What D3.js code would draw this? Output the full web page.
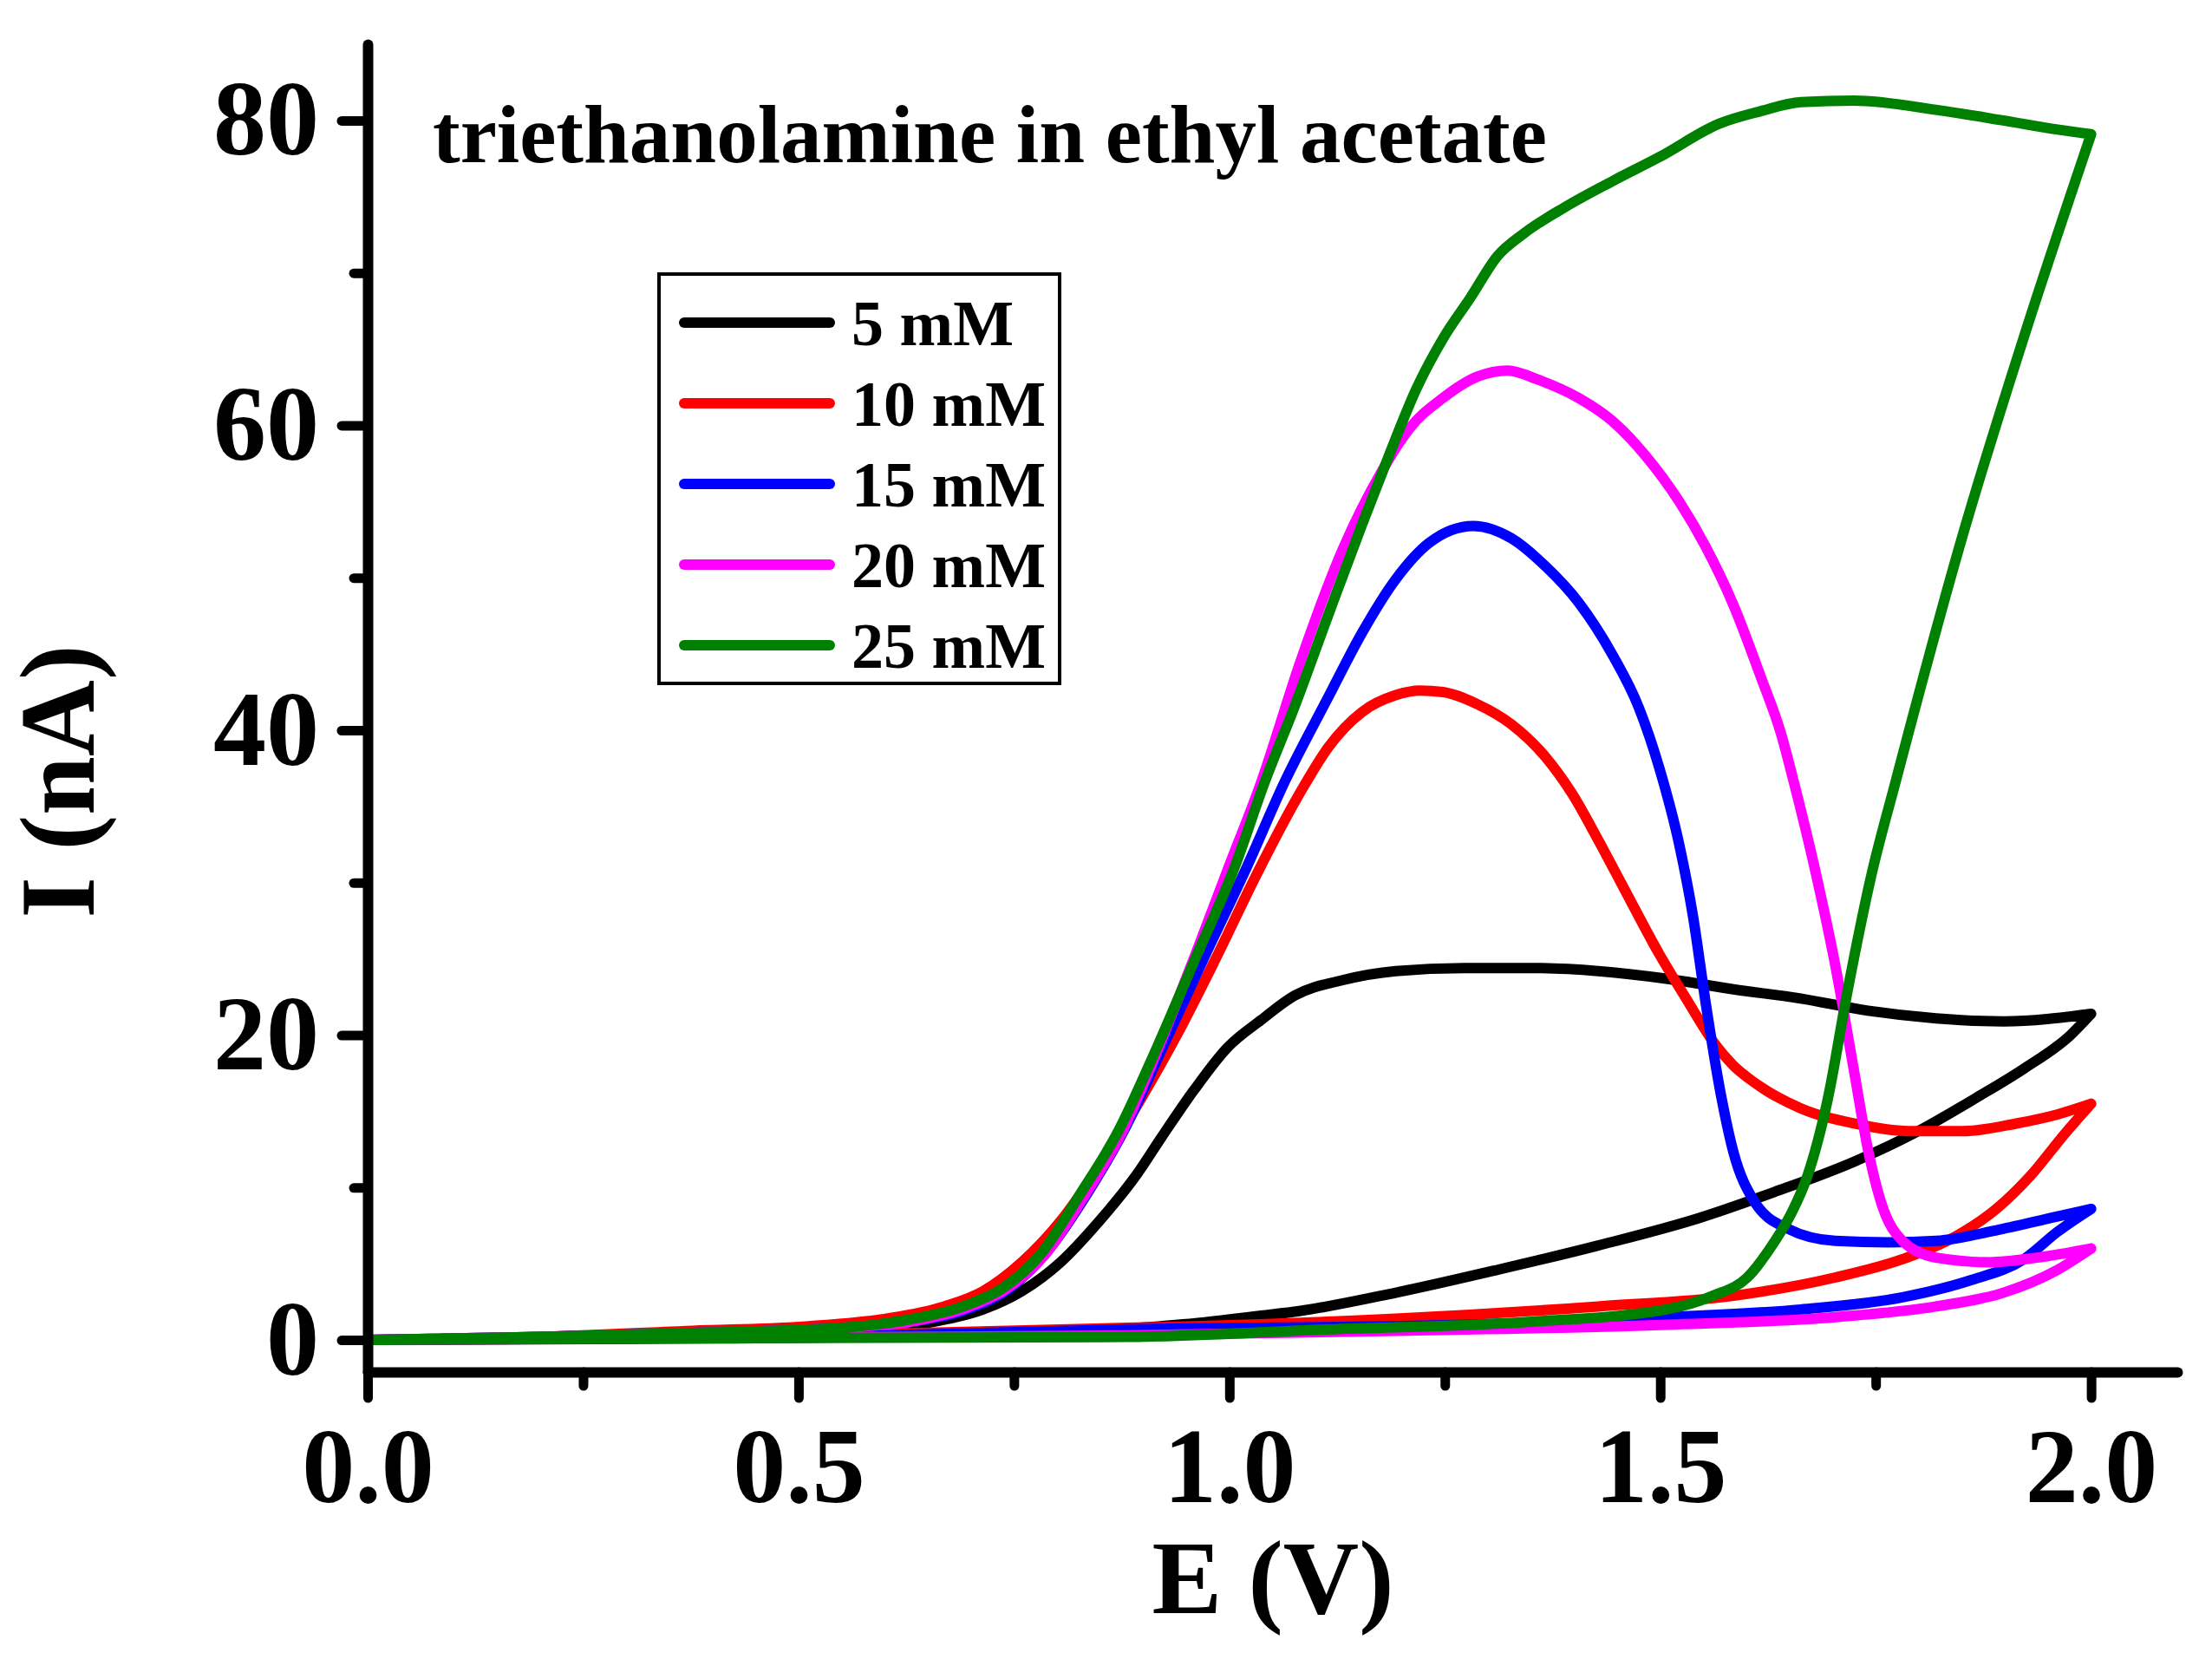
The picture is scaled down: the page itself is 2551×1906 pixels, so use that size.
<!DOCTYPE html>
<html>
<head>
<meta charset="utf-8">
<script src="https://cdn.jsdelivr.net/npm/d3@7.9.0/dist/d3.min.js"></script>
<style>
  body { margin: 0; background: #fff; }
  svg text { font-family: "Liberation Serif", "Times New Roman", serif; font-weight: bold; fill: #000; }
</style>
</head>
<body>
<svg id="chart" width="2551" height="1906"></svg>
<script>
// series labels and colours
const labels = ['5 mM', '10 mM', '15 mM', '20 mM', '25 mM'];
const colors = ['#000000', '#ff0000', '#0000ff', '#ff00ff', '#008000'];

// each curve is one loop: forward scan 0 -> 2 V, then back to 0 V
const e5 = [0, 0.2, 0.4, 0.6, 0.782, 0.871, 0.961, 1.037, 1.081, 1.193, 1.311, 1.428, 1.545, 1.632, 1.725, 1.796, 1.867, 1.922, 1.976, 2.0,
  1.898, 1.82, 1.741, 1.663, 1.585, 1.507, 1.428, 1.35, 1.272, 1.193, 1.131, 1.076, 1.037, 0.998, 0.959, 0.92, 0.893, 0.849, 0.804, 0.759, 0.714, 0.647, 0.557, 0.377, 0.2, 0];
const i5 = [0, 0.05, 0.1, 0.2, 0.4, 0.7, 1.1, 1.6, 1.9, 3.1, 4.6, 6.2, 8.0, 9.7, 11.7, 13.6, 15.9, 17.8, 20.0, 21.4,
  20.9, 21.1, 21.6, 22.4, 23.0, 23.7, 24.2, 24.4, 24.4, 24.2, 23.6, 22.6, 21.0, 19.2, 16.4, 13.2, 10.9, 7.8, 5.1, 3.2, 2.0, 1.1, 0.6, 0.2, 0.1, 0];

const e10 = [0, 0.3, 0.6, 0.88, 0.959, 1.193, 1.428, 1.585, 1.703, 1.781, 1.843, 1.89, 1.93, 1.969, 2.0,
  1.961, 1.913, 1.851, 1.788, 1.725, 1.663, 1.609, 1.585, 1.561, 1.53, 1.499, 1.46, 1.428, 1.397, 1.366, 1.327, 1.288, 1.248, 1.221, 1.193, 1.154, 1.115, 1.083,
  1.033, 0.984, 0.939, 0.893, 0.849, 0.804, 0.759, 0.714, 0.669, 0.602, 0.512, 0.377, 0.2, 0];
const i10 = [0, 0.2, 0.4, 0.8, 0.9, 1.4, 2.2, 2.9, 4.1, 5.3, 6.8, 8.6, 10.8, 13.5, 15.5,
  14.8, 14.2, 13.7, 13.7, 14.2, 15.2, 16.9, 18.0, 19.6, 22.4, 25.3, 29.4, 32.8, 35.9, 38.3, 40.4, 41.7, 42.5, 42.6, 42.3, 41.2, 38.9, 36.0,
  30.7, 25.0, 20.0, 15.4, 11.4, 7.8, 5.1, 3.2, 2.2, 1.4, 0.9, 0.6, 0.2, 0];

const e15 = [0, 0.3, 0.6, 0.88, 1.272, 1.507, 1.663, 1.781, 1.859, 1.922, 1.961, 2.0,
  1.961, 1.898, 1.82, 1.765, 1.703, 1.648, 1.609, 1.585, 1.569, 1.553, 1.538, 1.522, 1.499, 1.475, 1.444, 1.405, 1.366, 1.327, 1.283, 1.232, 1.193, 1.154, 1.115, 1.064,
  1.02, 0.97, 0.925, 0.88, 0.835, 0.79, 0.745, 0.7, 0.63, 0.55, 0.4, 0.2, 0];
const i15 = [0, 0.15, 0.3, 0.7, 1.0, 1.5, 2.0, 2.8, 3.9, 5.3, 7.1, 8.6,
  8.1, 7.3, 6.5, 6.4, 6.5, 7.3, 9.1, 12.3, 16.5, 22.0, 27.8, 32.5, 37.5, 41.5, 45.0, 48.4, 50.8, 52.6, 53.4, 52.3, 49.9, 46.4, 42.2, 36.6,
  31.0, 25.0, 19.5, 14.0, 9.6, 5.9, 3.4, 2.1, 1.2, 0.8, 0.5, 0.2, 0];

const e20 = [0, 0.3, 0.6, 0.88, 1.193, 1.507, 1.703, 1.82, 1.898, 1.961, 2.0,
  1.937, 1.882, 1.82, 1.781, 1.757, 1.741, 1.725, 1.703, 1.679, 1.655, 1.64, 1.616, 1.585, 1.553, 1.522, 1.483, 1.444, 1.405, 1.358, 1.323, 1.288, 1.248, 1.209, 1.178, 1.131, 1.083, 1.037,
  0.999, 0.96, 0.918, 0.875, 0.83, 0.786, 0.74, 0.695, 0.63, 0.55, 0.4, 0.2, 0];
const i20 = [0, 0.1, 0.2, 0.3, 0.6, 1.0, 1.5, 2.2, 3.1, 4.6, 6.0,
  5.4, 5.1, 5.4, 6.5, 8.9, 12.5, 17.6, 24.6, 31.0, 36.6, 39.8, 43.6, 48.2, 52.0, 55.0, 58.0, 60.3, 61.8, 63.0, 63.6, 63.2, 61.8, 59.8, 57.1, 51.8, 44.6, 36.6,
  31.0, 25.2, 19.2, 13.6, 9.3, 5.6, 3.3, 2.1, 1.2, 0.8, 0.5, 0.2, 0];

const e25 = [0, 0.3, 0.6, 0.88, 1.115, 1.35, 1.507, 1.561, 1.601, 1.632, 1.652, 1.671, 1.694, 1.718, 1.745, 1.773, 1.851, 1.922, 2.0,
  1.961, 1.898, 1.82, 1.725, 1.663, 1.616, 1.569, 1.499, 1.444, 1.389, 1.342, 1.311, 1.28, 1.248, 1.217, 1.185, 1.154, 1.115, 1.076, 1.041,
  1.006, 0.961, 0.916, 0.871, 0.826, 0.782, 0.737, 0.691, 0.624, 0.55, 0.4, 0.2, 0];
const i25 = [0, 0.1, 0.15, 0.2, 0.7, 1.2, 2.0, 2.9, 4.1, 6.4, 8.3, 10.8, 15.7, 23.1, 30.5, 36.6, 52.8, 65.8, 79.1,
  79.4, 80.0, 80.7, 81.3, 81.2, 80.6, 79.8, 77.6, 76.0, 74.3, 72.6, 71.1, 68.4, 65.7, 62.4, 58.0, 53.5, 47.6, 41.6, 36.6,
  31.0, 25.1, 19.2, 13.7, 9.5, 5.7, 3.4, 2.2, 1.3, 0.8, 0.5, 0.2, 0];

// tick values
const xMajor = [0, 0.5, 1.0, 1.5, 2.0];
const xMinor = [0.25, 0.75, 1.25, 1.75];
const yMajor = [0, 20, 40, 60, 80];
const yMinor = [10, 30, 50, 70];

const series = [[e5, i5], [e10, i10], [e15, i15], [e20, i20], [e25, i25]];

const svg = d3.select('#chart');

const x = d3.scaleLinear().domain([0, 2.1]).range([424, 2511]);
const y = d3.scaleLinear().domain([-2.1, 85]).range([1582, 51]);

// curves: split each loop at the turning point, both branches drawn left to right
const line = d3.line()
  .x(d => x(d[0]))
  .y(d => y(d[1]))
  .curve(d3.curveMonotoneX);

series.forEach(([es, is], idx) => {
  const pts = es.map((e, k) => [e, is[k]]);
  const turn = d3.maxIndex(es);
  const forward = pts.slice(0, turn + 1);
  const back = pts.slice(turn).reverse();
  svg.append('path')
    .attr('d', line(forward) + line(back))
    .attr('fill', 'none')
    .attr('stroke', colors[idx])
    .attr('stroke-width', 12)
    .attr('stroke-linejoin', 'round')
    .attr('stroke-linecap', 'round');
});

// axes
function styleAxis(g) {
  g.select('.domain').attr('stroke-width', 12).attr('stroke-linecap', 'round');
  g.selectAll('.tick line').attr('stroke-width', 11).attr('stroke-linecap', 'round');
}

svg.append('g')
  .attr('transform', `translate(0,${y(-2.1)})`)
  .call(d3.axisBottom(x).tickValues(xMinor).tickSize(16).tickSizeOuter(0).tickFormat(''))
  .call(styleAxis)
  .call(g => g.select('.domain').remove());

svg.append('g')
  .attr('transform', `translate(0,${y(-2.1)})`)
  .call(d3.axisBottom(x).tickValues(xMajor).tickSize(30).tickSizeOuter(0).tickFormat(d3.format('.1f')))
  .call(styleAxis)
  .call(g => g.selectAll('.tick text')
    .attr('y', 150).attr('dy', 0)
    .attr('font-size', 122).attr('font-family', null));

svg.append('g')
  .attr('transform', `translate(${x(0)},0)`)
  .call(d3.axisLeft(y).tickValues(yMinor).tickSize(16).tickSizeOuter(0).tickFormat(''))
  .call(styleAxis)
  .call(g => g.select('.domain').remove());

svg.append('g')
  .attr('transform', `translate(${x(0)},0)`)
  .call(d3.axisLeft(y).tickValues(yMajor).tickSize(30).tickSizeOuter(0).tickFormat(d3.format('d')))
  .call(styleAxis)
  .call(g => g.selectAll('.tick text')
    .attr('x', -56).attr('dy', '0.32em')
    .attr('font-size', 122).attr('font-family', null));

svg.selectAll('.domain, .tick line').attr('stroke', '#000');

// axis titles
svg.append('text')
  .attr('x', 1468).attr('y', 1860)
  .attr('text-anchor', 'middle')
  .attr('font-size', 121)
  .text('E (V)');

svg.append('text')
  .attr('transform', 'translate(108,901) rotate(-90)')
  .attr('text-anchor', 'middle')
  .attr('font-size', 122)
  .text('I (nA)');

// annotation
svg.append('text')
  .attr('x', 499).attr('y', 187)
  .attr('font-size', 95)
  .text('triethanolamine in ethyl acetate');

// legend
const legend = svg.append('g');
legend.append('rect')
  .attr('x', 760).attr('y', 316)
  .attr('width', 462).attr('height', 472)
  .attr('fill', '#fff')
  .attr('stroke', '#000')
  .attr('stroke-width', 4);

labels.forEach((lab, idx) => {
  const cy = 372 + idx * 93;
  legend.append('line')
    .attr('x1', 789).attr('x2', 957)
    .attr('y1', cy).attr('y2', cy)
    .attr('stroke', colors[idx])
    .attr('stroke-width', 12)
    .attr('stroke-linecap', 'round');
  legend.append('text')
    .attr('x', 982).attr('y', cy + 26)
    .attr('font-size', 74)
    .text(lab);
});
</script>
</body>
</html>
